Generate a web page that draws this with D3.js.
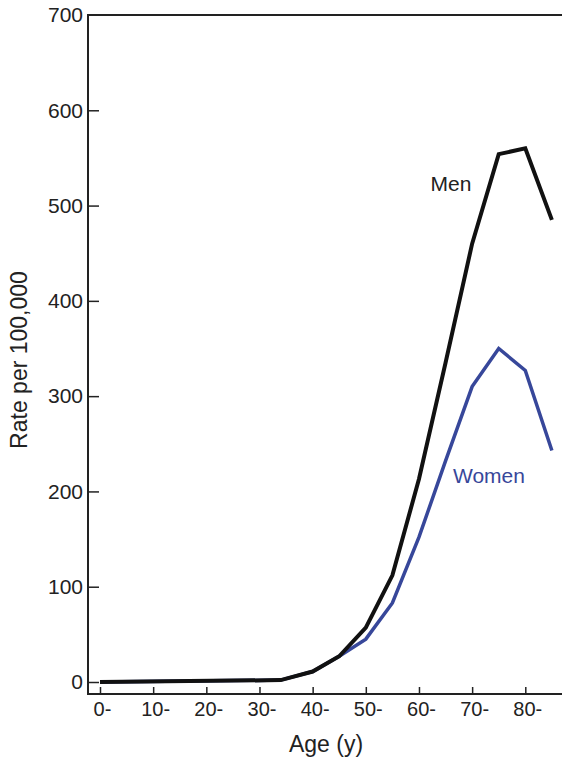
<!DOCTYPE html>
<html><head><meta charset="utf-8">
<script src="https://cdn.jsdelivr.net/npm/d3@7"></script>
<style>body{margin:0;background:#fff}svg{display:block}text{font-family:"Liberation Sans",Arial,sans-serif}</style>
</head><body>
<svg id="c" width="562" height="757"></svg>
<script>
const ages = [0, 34, 40, 45, 50, 55, 60, 65, 70, 75, 80, 85];
const men = [0, 2, 11, 27, 57, 112, 213, 335, 460, 554, 560, 485];
const women = [0, 2, 11, 27, 45, 83, 152, 232, 310, 350, 327, 243];
const xTicks = [0, 10, 20, 30, 40, 50, 60, 70, 80];
const xTickLabels = ["0-", "10-", "20-", "30-", "40-", "50-", "60-", "70-", "80-"];
const yTicks = [0, 100, 200, 300, 400, 500, 600, 700];

const svg = d3.select("#c");
const x = d3.scaleLinear().domain([0, 80]).range([100, 525.3]);
const y = d3.scaleLinear().domain([0, 700]).range([682, 15]);
const left = 88, bottom = 694, right = 562;
const ff = "'Liberation Sans', Arial, sans-serif";

// frame
svg.append("line").attr("x1", left).attr("x2", right).attr("y1", 15).attr("y2", 15)
  .attr("stroke", "#222").attr("stroke-width", 2);
svg.append("line").attr("x1", left).attr("x2", right).attr("y1", bottom).attr("y2", bottom)
  .attr("stroke", "#222").attr("stroke-width", 2);
svg.append("line").attr("x1", left).attr("x2", left).attr("y1", 14).attr("y2", bottom + 1)
  .attr("stroke", "#222").attr("stroke-width", 2);

// y axis
const yAxis = d3.axisLeft(y).tickValues(yTicks).tickSize(-11).tickPadding(5).tickFormat(d3.format("d"));
const gy = svg.append("g").attr("transform", `translate(${left},0)`).call(yAxis);
gy.select(".domain").remove();
gy.selectAll(".tick line").attr("stroke", "#222").attr("stroke-width", 1.5);
gy.selectAll(".tick text").attr("font-size", 21).attr("fill", "#222").attr("font-family", ff);
gy.selectAll(".tick").filter(d => d === 700).select("line").remove();

// x axis
const xAxis = d3.axisBottom(x).tickValues(xTicks).tickSize(-7).tickPadding(8)
  .tickFormat((d, i) => xTickLabels[i]);
const gx = svg.append("g").attr("transform", `translate(0,${bottom})`).call(xAxis);
gx.select(".domain").remove();
gx.selectAll(".tick line").attr("stroke", "#222").attr("stroke-width", 1.5);
gx.selectAll(".tick text").attr("font-size", 20).attr("fill", "#222").attr("font-family", ff)
  .attr("dx", 2);

// lines
const line = d3.line().x((d, i) => x(ages[i])).y(d => y(d));
svg.append("path").datum(women).attr("d", line).attr("fill", "none")
  .attr("stroke", "#37479a").attr("stroke-width", 3.5).attr("stroke-linejoin", "miter");
svg.append("path").datum(men).attr("d", line).attr("fill", "none")
  .attr("stroke", "#111").attr("stroke-width", 4).attr("stroke-linejoin", "miter");

// labels
svg.append("text").attr("x", 451).attr("y", 191).attr("text-anchor", "middle")
  .attr("font-size", 21).attr("fill", "#222").text("Men");
svg.append("text").attr("x", 489).attr("y", 483).attr("text-anchor", "middle")
  .attr("font-size", 21).attr("fill", "#37479a").text("Women");

svg.append("text").attr("x", 326).attr("y", 752).attr("text-anchor", "middle")
  .attr("font-size", 23).attr("fill", "#222").text("Age (y)");
svg.append("text").attr("transform", "translate(27,360) rotate(-90)").attr("text-anchor", "middle")
  .attr("font-size", 23).attr("fill", "#222").text("Rate per 100,000");
</script>
</body></html>
